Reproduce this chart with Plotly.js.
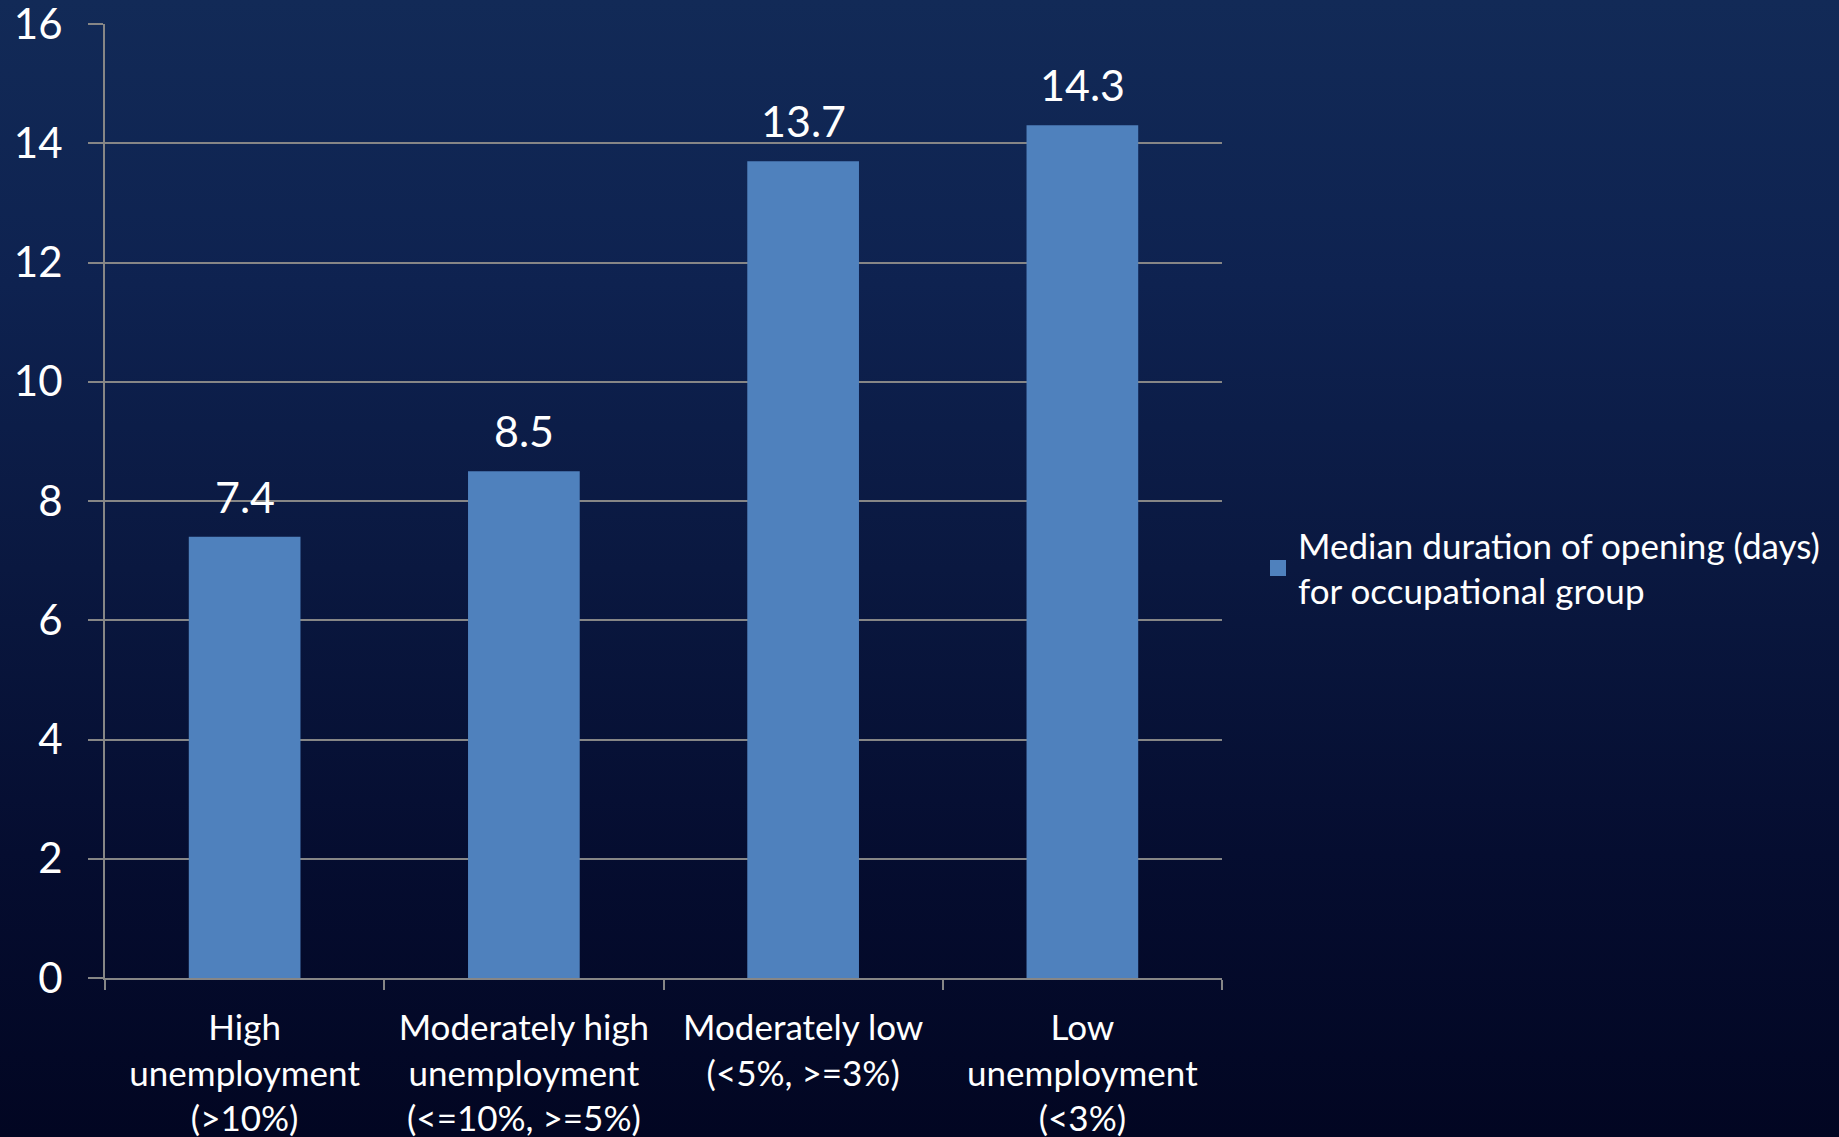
<!DOCTYPE html>
<html>
<head>
<meta charset="utf-8">
<script src="https://cdn.plot.ly/plotly-3.0.1.min.js"></script>
<style>
  html, body { margin: 0; padding: 0; width: 1839px; height: 1137px; overflow: hidden;
    background: linear-gradient(to bottom, #122a57 0%, #0e2250 25%, #0a1840 50%, #050d30 75%, #020622 100%); }
  #chart { width: 1839px; height: 1137px; }
</style>
</head>
<body>
<div id="chart"></div>
<script>
const categories = [
  "High<br>unemployment<br>(>10%)",
  "Moderately high<br>unemployment<br>(<=10%, >=5%)",
  "Moderately low<br>(<5%, >=3%)",
  "Low<br>unemployment<br>(<3%)"
];
const values = [7.4, 8.5, 13.7, 14.3];
const seriesName = "Median duration of opening (days)<br>for occupational group";
const yTicks = [0, 2, 4, 6, 8, 10, 12, 14, 16];

const FONT = "Lato, 'Open Sans', sans-serif";
const GRID = "#868686";
const BAR = "#4f81bd";

const trace = {
  type: "bar",
  x: categories,
  y: values,
  name: seriesName,
  marker: { color: BAR },
  showlegend: false,
  hoverinfo: "none"
};

// legend entry (larger square swatch like the original)
const legendTrace = {
  type: "scatter", mode: "markers",
  x: [null], y: [null],
  name: seriesName,
  marker: { symbol: "square", size: 23, color: BAR },
  showlegend: true, hoverinfo: "none"
};

const annotations = values.map((v, i) => ({
  x: categories[i], y: v, xref: "x", yref: "y",
  text: v.toFixed(1), showarrow: false,
  yanchor: "bottom", yshift: 13,
  font: { family: FONT, size: 43, color: "#ffffff" }
}));

const layout = {
  width: 1839, height: 1137,
  paper_bgcolor: "rgba(0,0,0,0)",
  plot_bgcolor: "rgba(0,0,0,0)",
  margin: { l: 105, r: 617, t: 24, b: 159 },
  bargap: 0.6,
  font: { family: FONT, color: "#ffffff" },
  xaxis: {
    type: "category",
    showgrid: false,
    showline: true, linecolor: GRID, linewidth: 2,
    ticks: "outside", tickson: "boundaries", ticklen: 10, tickcolor: GRID, tickwidth: 2,
    tickfont: { family: FONT, size: 35, color: "#ffffff" },
    ticklabelstandoff: 18,
    zeroline: false
  },
  yaxis: {
    range: [0, 16],
    tickvals: yTicks,
    ticktext: yTicks.map(String),
    showgrid: true, gridcolor: GRID, gridwidth: 2,
    showline: true, linecolor: GRID, linewidth: 2,
    ticks: "outside", ticklen: 15, tickcolor: GRID, tickwidth: 2,
    tickfont: { family: FONT, size: 42, color: "#ffffff" },
    ticklabelstandoff: 17,
    ticklabeloverflow: "allow",
    zeroline: false
  },
  legend: {
    xref: "paper", xanchor: "left",
    yref: "paper", yanchor: "top",
    font: { family: FONT, size: 35, color: "#ffffff" },
    bgcolor: "rgba(0,0,0,0)",
    itemsizing: "trace",
    itemwidth: 30
  },
  annotations: annotations
};
layout.legend.x = (1258 - 105) / (1839 - 105 - 617);
layout.legend.y = (978 - 516) / (978 - 24);

Plotly.newPlot("chart", [trace, legendTrace], layout, { displayModeBar: false, staticPlot: true });
</script>
</body>
</html>
